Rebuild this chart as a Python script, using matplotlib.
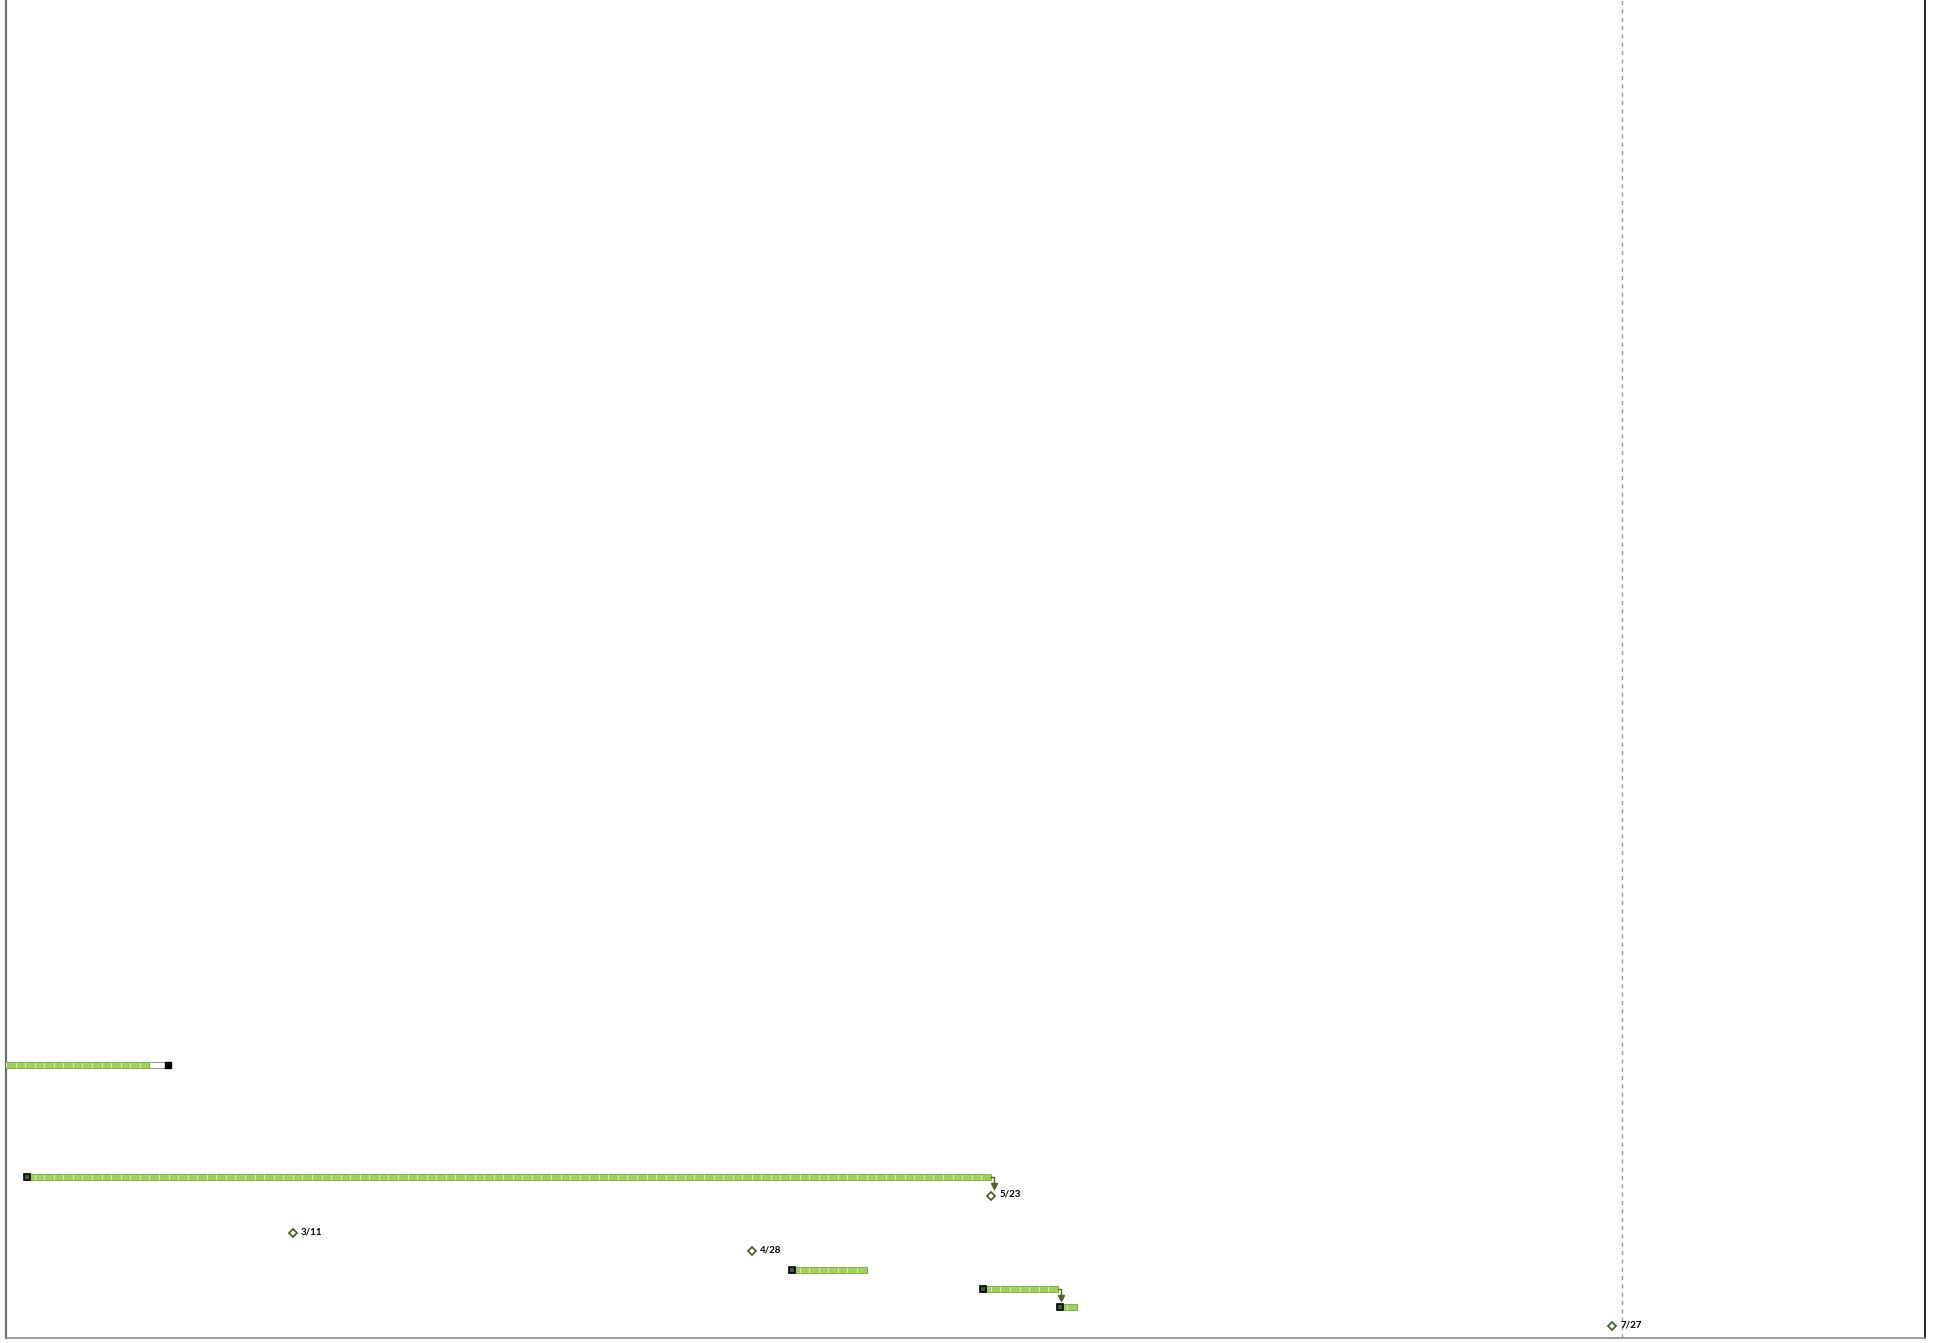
import datetime as dt
import matplotlib
matplotlib.use("Agg")
import matplotlib.pyplot as plt
import matplotlib.dates as mdates

# task bars: row index (from the top of the visible block), start, end, progress end
task_rows = [0, 6, 11, 12, 13]
task_start = ["2015-02-01", "2015-02-11", "2015-05-02", "2015-05-22", "2015-05-30"]
task_end = ["2015-02-26", "2015-05-23", "2015-05-10", "2015-05-30", "2015-06-01"]
task_done = ["2015-02-24", "2015-05-23", "2015-05-10", "2015-05-30", "2015-06-01"]

# milestones
milestone_rows = [7, 9, 10, 14]
milestone_dates = ["2015-05-23", "2015-03-11", "2015-04-28", "2015-07-27"]
milestone_labels = ["5/23", "3/11", "4/28", "7/27"]

# links: (from task, to row)
link_from = [1, 3]
link_to_rows = [7, 13]

status_date = "2015-07-28"
view_start = "2015-02-09"
view_end = "2015-08-28"


def num(s):
    return mdates.date2num(dt.datetime.strptime(s, "%Y-%m-%d"))


GREEN = "#9fd05f"
GREEN_EDGE = "#7aa83c"
OLIVE = "#4f6228"
BAR_H = 0.32

fig = plt.figure(figsize=(19.44, 13.43), dpi=100)
ax = fig.add_axes([6 / 1944, 5 / 1343, (1925 - 6) / 1944, 1338 / 1343])

for r, s, e, p in zip(task_rows, task_start, task_end, task_done):
    x0, x1, xp = num(s), num(e), num(p)
    # unfinished part
    if x1 > xp:
        ax.barh(r, x1 - xp, left=xp, height=BAR_H, color="white",
                edgecolor="#9a9a9a", linewidth=0.8, zorder=2)
    ax.barh(r, xp - x0, left=x0, height=BAR_H, color=GREEN,
            edgecolor=GREEN_EDGE, linewidth=0.6, zorder=3)
    # day segments on the bar
    day = x0 + 1
    while day < xp:
        ax.plot([day, day], [r - BAR_H / 2 + 0.05, r + BAR_H / 2 - 0.05],
                color="#d4ecb4", lw=0.7, zorder=4)
        day += 1
    # start cap
    ax.plot(x0 + 0.2, r, marker="s", ms=4, mfc="#4a5a2a", mec="black",
            mew=1.2, zorder=5)
    if x1 > xp:
        ax.plot(x1 - 0.1, r, marker="s", ms=4, mfc="black", mec="black",
                zorder=5)

for r, d, lab in zip(milestone_rows, milestone_dates, milestone_labels):
    x = num(d)
    ax.plot(x, r, marker="D", ms=4.5, mfc="white", mec=OLIVE, mew=1.3,
            zorder=6)
    ax.annotate(lab, (x, r), xytext=(6, 0.8), textcoords="offset points",
                fontsize=7, fontweight="bold", family="Lato",
                va="center", ha="left", zorder=7)

for i, tr in zip(link_from, link_to_rows):
    xe = num(task_end[i])
    r = task_rows[i]
    xv = xe + 0.3
    ax.plot([xe, xv, xv], [r, r, tr - 0.55], color=OLIVE, lw=1.0, zorder=5)
    ax.plot(xv, tr - 0.52, marker="v", ms=5, color=OLIVE, zorder=5)

ax.axvline(num(status_date), color="#9a9a9a", lw=1.0, ls=(0, (3, 3)),
           zorder=1)

ax.set_xlim(num(view_start), num(view_end) + 0.7)
ax.set_ylim(14.64, -57.10)
ax.set_xticks([])
ax.set_yticks([])
ax.spines["top"].set_visible(False)
ax.spines["left"].set_color("#707070")
ax.spines["left"].set_linewidth(1.6)
ax.spines["bottom"].set_color("#8a8a8a")
ax.spines["bottom"].set_linewidth(1.2)
ax.spines["right"].set_color("black")
ax.spines["right"].set_linewidth(1.2)

fig.savefig("out.png", dpi=100)
